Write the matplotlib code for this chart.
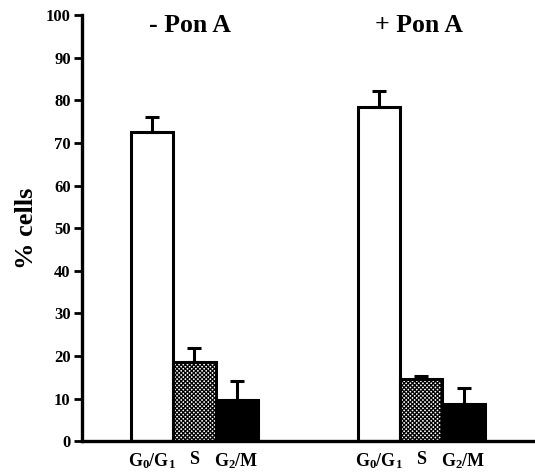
import numpy as np
import matplotlib
matplotlib.use('Agg')
import matplotlib.pyplot as plt

plt.rcParams['font.family'] = 'Liberation Serif'
plt.rcParams['font.weight'] = 'bold'
plt.rcParams['mathtext.fontset'] = 'custom'
plt.rcParams['mathtext.rm'] = 'Liberation Serif:bold'
plt.rcParams['mathtext.it'] = 'Liberation Serif:bold'
plt.rcParams['mathtext.bf'] = 'Liberation Serif:bold'
plt.rcParams['hatch.linewidth'] = 0.9

groups = ['- Pon A', '+ Pon A']
phases = ['G$_0$/G$_1$', 'S', 'G$_2$/M']
minus_pon = [72.5, 18.6, 9.8]
minus_err = [3.6, 3.4, 4.4]
plus_pon = [78.5, 14.5, 8.8]
plus_err = [3.6, 0.7, 3.8]

face = ['white', 'white', 'black']
hatch = [None, 'xxxxxxxx', None]

fig = plt.figure(figsize=(5.35, 4.76), dpi=100)
ax = fig.add_axes([0.153, 0.073, 0.845, 0.895])

starts = [0, 5.38]
title_x = [0.89, 6.32]
for g, (vals, errs) in enumerate([(minus_pon, minus_err), (plus_pon, plus_err)]):
    x = starts[g] + np.arange(3)
    for i in range(3):
        ax.bar(x[i], vals[i], width=1.0, color=face[i], edgecolor='black',
               linewidth=2.2, hatch=hatch[i], zorder=2)
        ax.errorbar(x[i], vals[i], yerr=[[0], [errs[i]]], fmt='none',
                    ecolor='black', elinewidth=2.2, capsize=5, capthick=2.2, zorder=3)
        ax.text(x[i], -2.4, phases[i], ha='center', va='top', fontsize=13,
                fontweight='bold')
    ax.text(title_x[g], 97.6, groups[g], ha='center', va='center', fontsize=18.5,
            fontweight='bold')

ax.set_xlim(-1.67, 9.05)
ax.set_ylim(0, 100)
ax.set_yticks(np.arange(0, 101, 10))
ax.set_xticks([])
ax.tick_params(axis='y', direction='out', length=6, width=2, labelsize=12, pad=2)
for lab in ax.get_yticklabels():
    lab.set_fontweight('bold')
ax.spines['top'].set_visible(False)
ax.spines['right'].set_visible(False)
ax.spines['left'].set_linewidth(2.4)
ax.spines['bottom'].set_linewidth(2.4)
ax.set_ylabel('% cells', fontsize=19, fontweight='bold', labelpad=6)

fig.savefig('out.png', dpi=100)
